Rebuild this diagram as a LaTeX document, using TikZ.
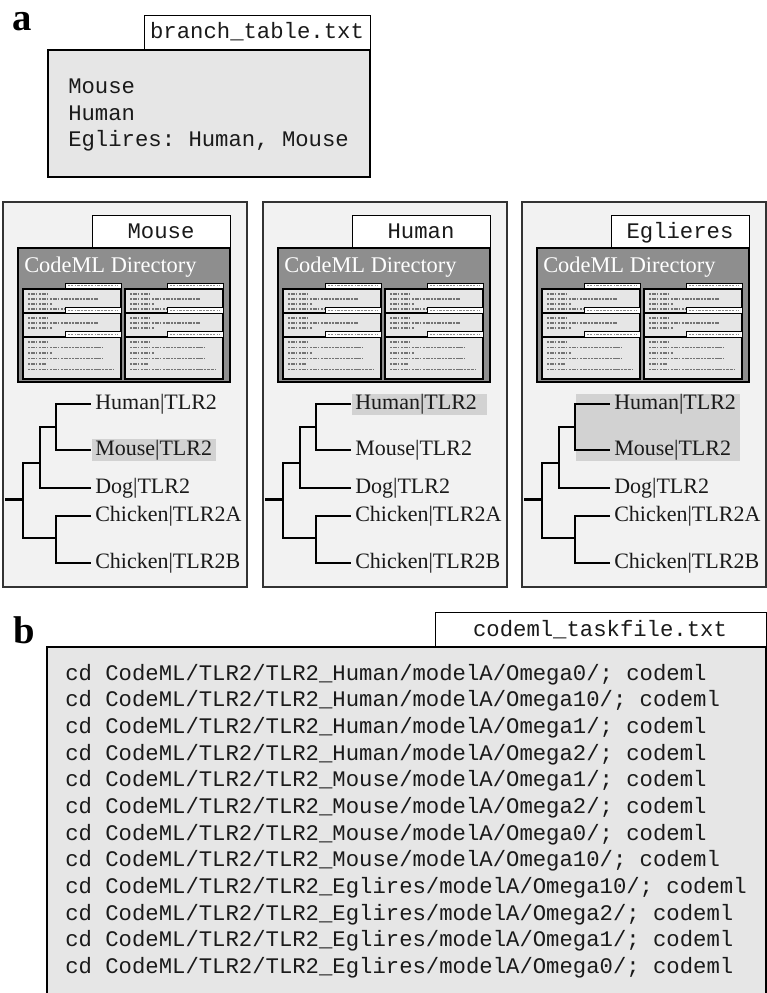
\documentclass[tikz,border=0pt]{standalone}
\usepackage{fontspec}
\setmainfont{Liberation Serif}
\setmonofont{Liberation Mono}
\usetikzlibrary{calc}
\definecolor{panelbg}{HTML}{F2F2F2}
\definecolor{filebg}{HTML}{E6E6E6}
\definecolor{dirbg}{HTML}{8E8E8E}
\definecolor{hlgray}{HTML}{D2D2D2}
\definecolor{inkk}{HTML}{1A1A1A}
\tikzset{
  filebox/.style={draw=black, line width=1.8pt, fill=filebg},
  filetab/.style={draw=black, line width=0.75pt, fill=white},
  panelbox/.style={draw=black!80, line width=1pt, fill=panelbg},
  dirbox/.style={draw=black, line width=2.2pt, fill=dirbg},
  subfile/.style={draw=black, line width=1.4pt, fill=filebg},
  subtab/.style={draw=black, line width=0.5pt, fill=white},
  ministroke/.style={draw=black!55, line width=0.9pt, dash pattern=on 1.6pt off 0.7pt on 2.8pt off 0.9pt on 1pt off 1.3pt},
  tabstroke/.style={draw=black!45, line width=0.6pt, dash pattern=on 1.2pt off 0.8pt on 2pt off 1pt},
  monotext/.style={font=\fontsize{16.7}{20}\ttfamily, text=inkk, inner sep=0pt},
  leafnode/.style={font=\fontsize{16.5}{20}\selectfont, text=inkk, inner sep=0pt, anchor=west},
  treeedge/.style={draw=black, line width=1.6pt},
  dirtitle/.style={font=\fontsize{16.8}{20}\selectfont, text=white, inner sep=0pt, anchor=base west},
  panellabel/.style={font=\fontsize{29}{32}\selectfont\bfseries, inner sep=0pt},
}
% mini directory contents: #1 left x of dir box, #2 top y
\newcommand\minidir[2]{%
  \foreach \c in {5,107} {
    \path[subfile] ({#1+\c},{#2+41}) rectangle ({#1+\c+98},{#2+65});
    \path[subfile] ({#1+\c},{#2+65}) rectangle ({#1+\c+98},{#2+89});
    \path[subfile] ({#1+\c},{#2+89}) rectangle ({#1+\c+98},{#2+131});
    \foreach \yy/\ll in {46/22,51/70,56/24,61/40} {
      \path[ministroke] ({#1+\c+5},{#2+\yy}) -- ({#1+\c+5+\ll},{#2+\yy});
    }
    \foreach \yy/\ll in {70/22,75/70,80/24} {
      \path[ministroke] ({#1+\c+5},{#2+\yy}) -- ({#1+\c+5+\ll},{#2+\yy});
    }
    \foreach \yy/\ll in {94/22,99.5/75,105/24,110.5/75,116/18,121.5/86} {
      \path[ministroke] ({#1+\c+5},{#2+\yy}) -- ({#1+\c+5+\ll},{#2+\yy});
    }
    \foreach \yy in {35,59.5,83.5} {
      \path[subtab] ({#1+\c+42},{#2+\yy}) rectangle ({#1+\c+98},{#2+\yy+5.5});
      \path[tabstroke] ({#1+\c+45},{#2+\yy+2.75}) -- ({#1+\c+95},{#2+\yy+2.75});
    }
  }
}
% panel: #1 id, #2 left x, #3 title
\newcommand\panelframe[3]{%
  \path[panelbox] (#2,202) rectangle ({#2+244},587);
  \path[filetab] ({#2+89},215) rectangle ({#2+227},248);
  \node[monotext, anchor=base] (#1-title) at ({#2+158},238.5) {#3};
  \path[dirbox] ({#2+15},248) rectangle ({#2+227},382);
  \node[dirtitle] (#1-dir) at ({#2+21},272.5) {CodeML Directory};
  \minidir{#2+15}{248}
}
\newcommand\panaltree[2]{%
  \node[leafnode] (#1-hu) at ({#2+92},404) {Human|TLR2};
  \node[leafnode] (#1-mo) at ({#2+92},450) {Mouse|TLR2};
  \node[leafnode] (#1-dg) at ({#2+92},488) {Dog|TLR2};
  \node[leafnode] (#1-ca) at ({#2+92},516) {Chicken|TLR2A};
  \node[leafnode] (#1-cb) at ({#2+92},563) {Chicken|TLR2B};
  \coordinate (#1-r0) at ({#2+2},499.5);
  \coordinate (#1-r) at ({#2+20},499.5);
  \coordinate (#1-j2) at ({#2+37},463);
  \coordinate (#1-j1) at ({#2+53},427);
  \coordinate (#1-jc) at ({#2+53},538);
  \path[treeedge] (#1-r0) -- (#1-r);
  \path[treeedge] (#1-r) |- (#1-j2);
  \path[treeedge] (#1-r) |- (#1-jc);
  \path[treeedge] (#1-j2) |- (#1-j1);
  \path[treeedge] (#1-j2) |- ($(#1-dg.west)+(-4,0)$);
  \path[treeedge] (#1-j1) |- ($(#1-hu.west)+(-4,0)$);
  \path[treeedge] (#1-j1) |- ($(#1-mo.west)+(-4,0)$);
  \path[treeedge] (#1-jc) |- ($(#1-ca.west)+(-4,0)$);
  \path[treeedge] (#1-jc) |- ($(#1-cb.west)+(-4,0)$);
}
\begin{document}
\begin{tikzpicture}[x=0.75pt,y=-0.75pt]
\useasboundingbox (0,0) rectangle (767,993);
\fill[white] (0,0) rectangle (767,993);
% ---- a ----
\node[panellabel, anchor=base] (la) at (22,30) {a};
\path[filetab] (144,15) rectangle (370,50);
\node[monotext, anchor=base] (tabA) at (257,38.5) {branch\_table.txt};
\path[filebox] (48,50) rectangle (370,177);
\node[monotext, anchor=base west] (bt1) at (68,93) {Mouse};
\node[monotext, anchor=base west] (bt2) at (68,120) {Human};
\node[monotext, anchor=base west] (bt3) at (68,146.5) {Eglires: Human, Mouse};
% ---- panels ----
\panelframe{pm}{3}{Mouse}
\fill[hlgray] (92,439) rectangle (216,461);
\panaltree{pm}{3}
\panelframe{ph}{263}{Human}
\fill[hlgray] (352,394) rectangle (487,415);
\panaltree{ph}{263}
\panelframe{pe}{522}{Eglieres}
\fill[hlgray] (576,394) rectangle (740,461);
\panaltree{pe}{522}
% ---- b ----
\node[panellabel, anchor=base] (lb) at (24,643) {b};
\path[filetab] (435,612) rectangle (766,647);
\node[monotext, anchor=base] (tabB) at (600,636.5) {codeml\_taskfile.txt};
\path[filebox] (47,647) rectangle (766,1010);
\node[monotext, anchor=base west] (l1) at (65,680.0) {cd CodeML/TLR2/TLR2\_Human/modelA/Omega0/; codeml};
\node[monotext, anchor=base west] (l2) at (65,706.7) {cd CodeML/TLR2/TLR2\_Human/modelA/Omega10/; codeml};
\node[monotext, anchor=base west] (l3) at (65,733.3) {cd CodeML/TLR2/TLR2\_Human/modelA/Omega1/; codeml};
\node[monotext, anchor=base west] (l4) at (65,760.0) {cd CodeML/TLR2/TLR2\_Human/modelA/Omega2/; codeml};
\node[monotext, anchor=base west] (l5) at (65,786.7) {cd CodeML/TLR2/TLR2\_Mouse/modelA/Omega1/; codeml};
\node[monotext, anchor=base west] (l6) at (65,813.3) {cd CodeML/TLR2/TLR2\_Mouse/modelA/Omega2/; codeml};
\node[monotext, anchor=base west] (l7) at (65,840.0) {cd CodeML/TLR2/TLR2\_Mouse/modelA/Omega0/; codeml};
\node[monotext, anchor=base west] (l8) at (65,866.7) {cd CodeML/TLR2/TLR2\_Mouse/modelA/Omega10/; codeml};
\node[monotext, anchor=base west] (l9) at (65,893.3) {cd CodeML/TLR2/TLR2\_Eglires/modelA/Omega10/; codeml};
\node[monotext, anchor=base west] (l10) at (65,920.0) {cd CodeML/TLR2/TLR2\_Eglires/modelA/Omega2/; codeml};
\node[monotext, anchor=base west] (l11) at (65,946.7) {cd CodeML/TLR2/TLR2\_Eglires/modelA/Omega1/; codeml};
\node[monotext, anchor=base west] (l12) at (65,973.3) {cd CodeML/TLR2/TLR2\_Eglires/modelA/Omega0/; codeml};
\end{tikzpicture}
\end{document}
